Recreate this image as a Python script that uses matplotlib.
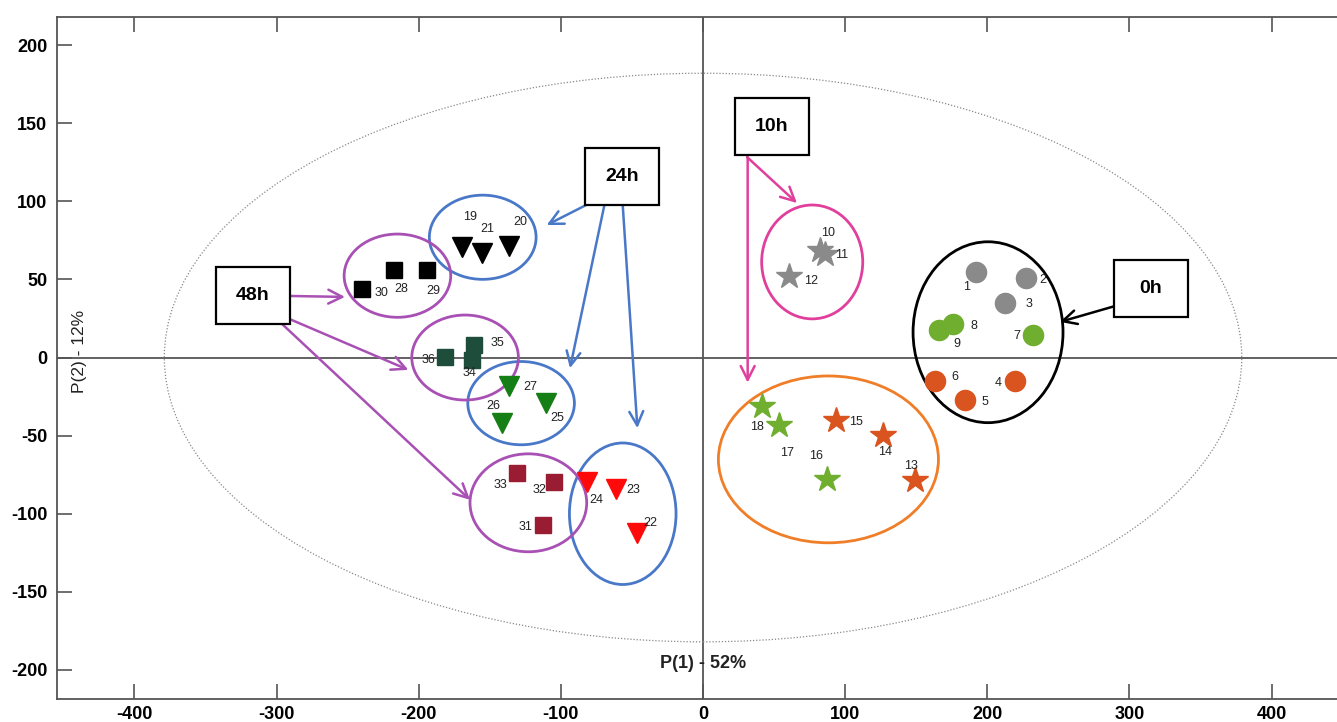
import matplotlib
matplotlib.use("Agg")
import matplotlib.pyplot as plt
from matplotlib.patches import Ellipse, Rectangle

plt.rcParams['font.family'] = ['Liberation Sans', 'DejaVu Sans']

# ---------------- data ----------------
# 0h: circles
ids_0h_gray = [1, 2, 3]
x_0h_gray = [192.2, 227.0, 212.4]
y_0h_gray = [54.9, 50.9, 35.1]
ids_0h_green = [8, 9, 7]
x_0h_green = [176.0, 165.9, 231.9]
y_0h_green = [21.5, 17.9, 14.5]
ids_0h_orange = [6, 4, 5]
x_0h_orange = [163.2, 219.7, 184.6]
y_0h_orange = [-14.8, -14.8, -27.0]

# 10h: stars
ids_10h_gray = [10, 11, 12]
x_10h_gray = [82.3, 85.8, 60.7]
y_10h_gray = [69.0, 66.3, 52.1]
ids_10h_green = [18, 17, 16]
x_10h_green = [41.3, 53.7, 87.0]
y_10h_green = [-31.0, -43.1, -77.9]
ids_10h_orange = [15, 14, 13]
x_10h_orange = [93.6, 126.4, 149.1]
y_10h_orange = [-39.9, -49.5, -78.3]

# 24h: triangles
ids_24h_black = [19, 21, 20]
x_24h_black = [-169.8, -155.7, -136.2]
y_24h_black = [70.9, 67.1, 71.4]
ids_24h_green = [27, 25, 26]
x_24h_green = [-136.2, -110.4, -141.6]
y_24h_green = [-18.2, -28.9, -42.0]
ids_24h_red = [24, 23, 22]
x_24h_red = [-81.4, -61.4, -46.2]
y_24h_red = [-79.4, -84.3, -112.4]

# 48h: squares
ids_48h_black = [30, 28, 29]
x_48h_black = [-240.1, -217.1, -194.1]
y_48h_black = [43.7, 56.0, 56.0]
ids_48h_green = [36, 35, 34]
x_48h_green = [-181.5, -161.1, -162.7]
y_48h_green = [0.2, 8.1, -1.5]
ids_48h_red = [33, 32, 31]
x_48h_red = [-130.6, -104.8, -112.3]
y_48h_red = [-74.0, -80.0, -107.1]

x_ticks = [-400, -300, -200, -100, 0, 100, 200, 300, 400]
y_ticks = [-200, -150, -100, -50, 0, 50, 100, 150, 200]
x_label = "P(1) - 52%"
y_label = "P(2) - 12%"

# label offsets in pixels (dx right, dy down)
label_off = {
    1: (-10, 15), 2: (17, 2), 3: (24, 1), 8: (21, 2), 9: (18, 14), 7: (-16, 1),
    6: (20, -4), 4: (-17, 2), 5: (20, 2),
    10: (8, -17), 11: (17, 1), 12: (22, 5),
    18: (-5, 21), 17: (8, 28), 16: (-11, -23), 15: (20, 2), 14: (2, 17), 13: (-4, -14),
    19: (8, -30), 21: (6, -24), 20: (11, -24),
    27: (21, 1), 25: (11, 15), 26: (-8, -17),
    24: (9, 18), 23: (17, 1), 22: (13, -10),
    30: (20, 4), 28: (7, 19), 29: (6, 21),
    36: (-17, 3), 35: (23, -2), 34: (-2, 13),
    33: (-17, 12), 32: (-15, 8), 31: (-18, 2),
}

# ---------------- styles ----------------
GRAY = '#8a8a8a'
LGREEN = '#6fae2e'
ORANGE = '#d9541e'
DKGREEN_SQ = '#1f4d3b'
GREEN_TRI = '#157f15'
DKRED = '#9a1c32'
RED = '#ff0a0a'
BLUE = '#4a78c8'
PURPLE = '#a850b4'
PINK = '#e0409c'
ORANGE_E = '#f07e28'

series = [
    (ids_0h_gray, x_0h_gray, y_0h_gray, 'o', GRAY, 14.5),
    (ids_0h_green, x_0h_green, y_0h_green, 'o', LGREEN, 14.5),
    (ids_0h_orange, x_0h_orange, y_0h_orange, 'o', ORANGE, 14.5),
    (ids_10h_gray, x_10h_gray, y_10h_gray, '*', GRAY, 19),
    (ids_10h_green, x_10h_green, y_10h_green, '*', LGREEN, 19),
    (ids_10h_orange, x_10h_orange, y_10h_orange, '*', ORANGE, 19),
    (ids_24h_black, x_24h_black, y_24h_black, 'v', 'black', 15),
    (ids_24h_green, x_24h_green, y_24h_green, 'v', GREEN_TRI, 15),
    (ids_24h_red, x_24h_red, y_24h_red, 'v', RED, 15),
    (ids_48h_black, x_48h_black, y_48h_black, 's', 'black', 12),
    (ids_48h_green, x_48h_green, y_48h_green, 's', DKGREEN_SQ, 12),
    (ids_48h_red, x_48h_red, y_48h_red, 's', DKRED, 12),
]

fig = plt.figure(figsize=(13.37, 7.22), dpi=100)
ax = fig.add_axes([57 / 1337, 23 / 722, (1337 - 57) / 1337, (699 - 17) / 722])
ax.set_xlim(-454.5, 446.0)
ax.set_ylim(-218.6, 218.0)

# reference lines and confidence ellipse
ax.axhline(0, color='#555555', lw=1.3, zorder=1)
ax.axvline(0, color='#555555', lw=1.3, zorder=1)
ax.add_patch(Ellipse((0, 0), 758, 364, fill=False, ls=(0, (1, 1.5)),
                     lw=0.9, ec='#888888', zorder=1))

# group ellipses
ellipses = [
    ((200.5, 16.2), 105.5, 115.8, 'black'),
    ((76.8, 61.2), 71.1, 72.9, PINK),
    ((88.2, -65.2), 154.8, 106.8, ORANGE_E),
    ((-155.0, 77.0), 75.1, 53.9, BLUE),
    ((-128.0, -29.2), 75.0, 53.3, BLUE),
    ((-56.5, -100.0), 75.0, 90.6, BLUE),
    ((-215.0, 52.4), 75.0, 53.3, PURPLE),
    ((-167.4, 0.0), 75.0, 54.4, PURPLE),
    ((-122.9, -93.0), 82.1, 62.7, PURPLE),
]
for c, w, h, col in ellipses:
    ax.add_patch(Ellipse(c, w, h, fill=False, ec=col, lw=2.0, zorder=2))

# markers and labels
for ids, xs, ys, m, col, ms in series:
    ax.plot(xs, ys, ls='none', marker=m, color=col, ms=ms, mec=col, zorder=3)
    for i, xv, yv in zip(ids, xs, ys):
        dx, dy = label_off[i]
        ax.annotate(str(i), (xv, yv), xytext=(dx, -dy), textcoords='offset pixels',
                    ha='center', va='center', fontsize=9, color='#222222', zorder=4)

# label boxes
boxes = [
    ("48h", -316.6, 40.0),
    ("24h", -57.0, 115.9),
    ("10h", 48.5, 148.2),
    ("0h", 315.2, 44.5),
]
bw, bh = 52.0, 36.5
for txt, cx, cy in boxes:
    ax.add_patch(Rectangle((cx - bw / 2, cy - bh / 2), bw, bh, fc='white',
                           ec='black', lw=1.6, zorder=5))
    ax.text(cx, cy, txt, ha='center', va='center', fontsize=14,
            fontweight='bold', zorder=6)

# arrows
arrows = [
    ((-290.5, 39.4), (-251.9, 38.8), PURPLE),
    ((-292.6, 25.3), (-207.3, -7.9), PURPLE),
    ((-296.2, 21.5), (-163.9, -91.1), PURPLE),
    ((-82.3, 97.6), (-110.0, 84.8), BLUE),
    ((-69.4, 97.6), (-93.6, -6.8), BLUE),
    ((-56.5, 97.6), (-46.2, -45.2), BLUE),
    ((31.0, 128.3), (66.1, 98.9), PINK),
    ((31.4, 128.3), (31.4, -16.1), PINK),
    ((291.9, 33.5), (251.1, 22.8), 'black'),
]
for s, e, col in arrows:
    ax.annotate('', xy=e, xytext=s,
                arrowprops=dict(arrowstyle='->', color=col, lw=1.8,
                                mutation_scale=25, shrinkA=0, shrinkB=0),
                zorder=4)

# axis labels inside
ax.text(0, -196, x_label, ha='center', va='center', fontsize=13,
        fontweight='bold', color='#222222')
ax.text(-439, 4, y_label, ha='center', va='center', fontsize=12.5,
        rotation=90, color='#222222')

# ticks and spines
ax.set_xticks(x_ticks)
ax.set_yticks(y_ticks)
ax.set_xticklabels([str(v) for v in x_ticks], fontweight='bold', fontsize=13)
ax.set_yticklabels([str(v) for v in y_ticks], fontweight='bold', fontsize=13)
ax.tick_params(axis='both', direction='in', length=11, width=1.2, color='#555555',
               top=True, right=False)
ax.tick_params(axis='x', pad=5)
ax.tick_params(axis='y', pad=7)
for sp in ['left', 'bottom', 'top']:
    ax.spines[sp].set_color('#555555')
    ax.spines[sp].set_linewidth(1.3)
ax.spines['right'].set_visible(False)

fig.savefig('out.png', dpi=100)
